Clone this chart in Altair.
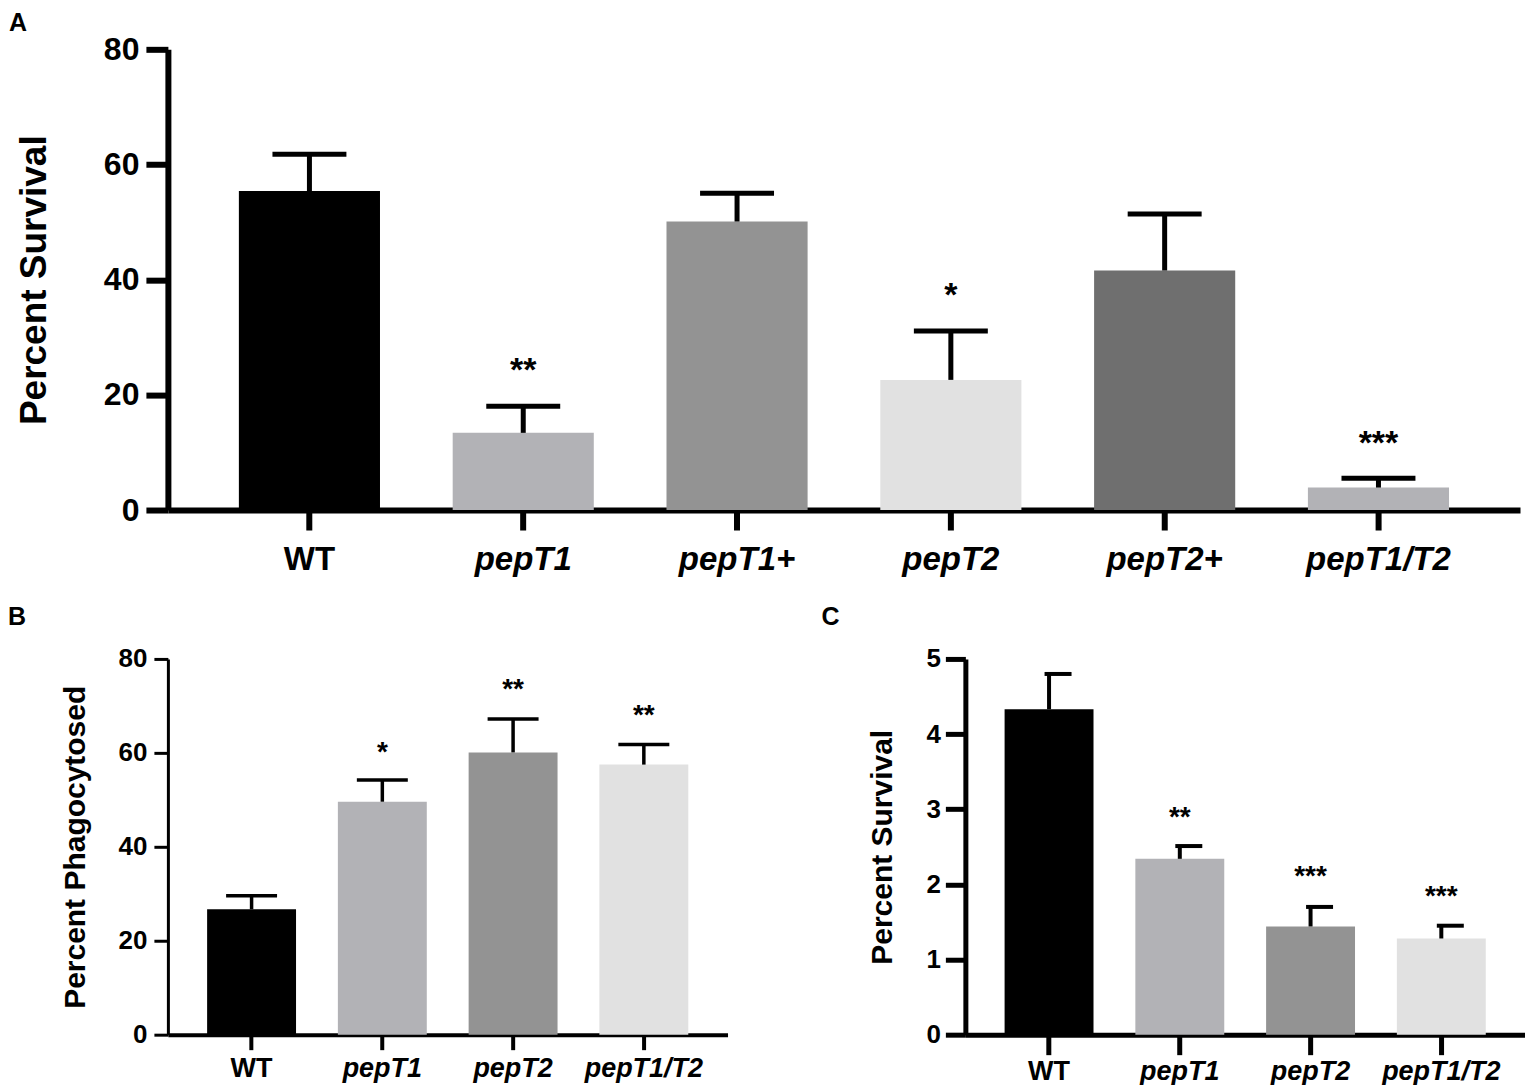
import altair as alt
import pandas as pd

FONT = "Liberation Sans, Arial, Helvetica, sans-serif"

# ---------------- Panel A ----------------
a_groups = ["WT", "pepT1", "pepT1+", "pepT2", "pepT2+", "pepT1/T2"]
a_means = [55.4, 13.4, 50.1, 22.6, 41.6, 3.9]
a_upper = [61.8, 18.0, 55.0, 31.1, 51.4, 5.5]
a_stars = ["", "**", "", "*", "", "***"]
a_star_y = [None, 25.7, None, 38.7, None, 13.0]
a_colors = ["#000000", "#b2b2b6", "#939393", "#e1e1e1", "#6f6f6f", "#b2b2b6"]
a_ticks = [0, 20, 40, 60, 80]

# ---------------- Panel B ----------------
b_groups = ["WT", "pepT1", "pepT2", "pepT1/T2"]
b_means = [26.7, 49.6, 60.1, 57.5]
b_upper = [29.6, 54.2, 67.2, 61.8]
b_stars = ["", "*", "**", "**"]
b_star_y = [None, 61.5, 74.8, 69.3]
b_colors = ["#000000", "#b2b2b6", "#939393", "#e1e1e1"]
b_ticks = [0, 20, 40, 60, 80]

# ---------------- Panel C ----------------
c_groups = ["WT", "pepT1", "pepT2", "pepT1/T2"]
c_means = [4.33, 2.34, 1.44, 1.28]
c_upper = [4.80, 2.51, 1.70, 1.45]
c_stars = ["", "**", "***", "***"]
c_star_y = [None, 2.98, 2.19, 1.92]
c_colors = ["#000000", "#b2b2b6", "#939393", "#e1e1e1"]
c_ticks = [0, 1, 2, 3, 4, 5]


def panel(groups, means, upper, stars, star_y, colors, ticks, s):
    df = pd.DataFrame({"group": groups, "mean": means, "upper": upper,
                       "star": stars, "star_y": star_y, "col": colors})
    xaxis = alt.Axis(
        title=None, labelAngle=0, grid=False,
        domainColor="black", domainWidth=s["xdw"],
        tickColor="black", tickWidth=s["xdw"], tickSize=s["xts"],
        labelFont=FONT, labelFontSize=s["xlfs"], labelFontWeight="bold",
        labelColor="black", labelPadding=s["xlp"],
        labelFontStyle={"condition": {"test": "datum.value == 'WT'", "value": "normal"},
                        "value": "italic"},
    )
    yaxis = alt.Axis(
        title=s["ytitle"], values=ticks, grid=False, format="d",
        domainColor="black", domainWidth=s["ydw"],
        tickColor="black", tickWidth=s["ydw"], tickSize=s["yts"],
        labelFont=FONT, labelFontSize=s["ylfs"], labelFontWeight="bold",
        labelColor="black", labelPadding=s["ylp"],
        titleFont=FONT, titleFontSize=s["ytfs"], titleFontWeight="bold",
        titleColor="black", titlePadding=s["ytp"],
    )
    xscale = alt.Scale(domain=groups, paddingInner=s["pi"], paddingOuter=s["po"])
    yscale = alt.Scale(domain=[0, ticks[-1]], nice=False, zero=True)
    x = alt.X("group:N", scale=xscale, sort=groups, axis=xaxis)

    base = alt.Chart(df)
    bars = base.mark_bar().encode(
        x=x,
        y=alt.Y("mean:Q", scale=yscale, axis=yaxis),
        color=alt.Color("col:N", scale=None),
    )
    stem = base.mark_rule(color="black", strokeWidth=s["ew"]).encode(
        x=x,
        y=alt.Y("mean:Q", scale=yscale, axis=yaxis),
        y2="upper:Q",
    )
    cap = base.mark_tick(color="black", thickness=s["ew"], size=s["capw"],
                         xOffset=s["capdx"], opacity=1).encode(
        x=x,
        y=alt.Y("upper:Q", scale=yscale, axis=yaxis),
    )
    star = base.transform_filter("datum.star != ''").mark_text(
        font=FONT, fontSize=s["sfs"], fontWeight="bold", color="black",
        baseline="middle", dy=s["sdy"],
    ).encode(
        x=x,
        y=alt.Y("star_y:Q", scale=yscale, axis=yaxis),
        text="star:N",
    )
    return alt.layer(bars, stem, cap, star).properties(
        width=s["w"], height=s["h"],
        view=alt.ViewBackground(stroke="transparent", strokeWidth=0),
        title=alt.TitleParams(
            s["letter"], anchor="start", frame="group", dx=s["tdx"],
            offset=s["toff"], font=FONT, fontSize=25, fontWeight="bold", color="black",
        ),
    )


style_a = dict(letter="A", ytitle="Percent Survival", w=1353, h=461, pi=0.34, po=0.332,
               xdw=6, xts=20, xlfs=33, xlp=14, ydw=6, yts=22, ylfs=32, ylp=7,
               ytfs=37, ytp=50, ew=5, capw=74, capdx=0, sfs=34, sdy=9,
               tdx=-159, toff=-3)
style_b = dict(letter="B", ytitle="Percent Phagocytosed", w=560, h=376, pi=0.32, po=0.30,
               xdw=4, xts=15, xlfs=27, xlp=6, ydw=3, yts=14, ylfs=26, ylp=7,
               ytfs=30, ytp=28, ew=3.5, capw=51, capdx=0, sfs=28, sdy=7,
               tdx=-160, toff=16)
style_c = dict(letter="C", ytitle="Percent Survival", w=560, h=376, pi=0.32, po=0.30,
               xdw=5, xts=20, xlfs=27, xlp=4, ydw=5, yts=20, ylfs=26, ylp=5,
               ytfs=30, ytp=28, ew=4, capw=27, capdx=9, sfs=28, sdy=7,
               tdx=-144, toff=16)

chart_a = panel(a_groups, a_means, a_upper, a_stars, a_star_y, a_colors, a_ticks, style_a)
chart_b = panel(b_groups, b_means, b_upper, b_stars, b_star_y, b_colors, b_ticks, style_b)
chart_c = panel(c_groups, c_means, c_upper, c_stars, c_star_y, c_colors, c_ticks, style_c)

row = alt.hconcat(chart_b, chart_c, spacing=94)
chart = alt.vconcat(chart_a, row, spacing=28).properties(
    padding={"top": 3, "left": 0, "right": 0, "bottom": 0}
).configure_view(
    stroke="transparent", strokeWidth=0
).configure(font=FONT)

chart.save("out.html", embed_options={"renderer": "svg", "actions": False})
